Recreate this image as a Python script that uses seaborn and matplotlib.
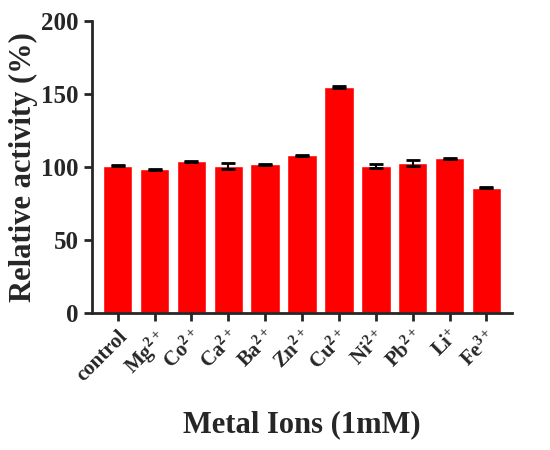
import matplotlib
matplotlib.use("Agg")
import matplotlib.pyplot as plt
import seaborn as sns
import pandas as pd

# ==================== DATA ====================
ions = ["control", "Mg$^{2+}$", "Co$^{2+}$", "Ca$^{2+}$", "Ba$^{2+}$", "Zn$^{2+}$",
        "Cu$^{2+}$", "Ni$^{2+}$", "Pb$^{2+}$", "Li$^{+}$", "Fe$^{3+}$"]
activity = [101, 98.5, 104, 101, 102, 108, 155, 101, 103, 106, 86]
err = [0.5, 0.3, 0.3, 2.0, 0.5, 0.6, 0.5, 1.5, 2.0, 0.6, 0.4]

df = pd.DataFrame({"ion": ions, "activity": activity, "err": err})

# ==================== STYLE ====================
sns.set_style("ticks")
plt.rcParams["font.family"] = ["Liberation Serif", "DejaVu Serif"]
plt.rcParams["font.weight"] = "bold"
plt.rcParams["mathtext.fontset"] = "custom"
plt.rcParams["mathtext.rm"] = "Liberation Serif"
plt.rcParams["mathtext.it"] = "Liberation Serif"

fig = plt.figure(figsize=(5.5, 4.5), dpi=100)
ax = fig.add_axes([0.167, 0.304, 0.763, 0.649])

sns.barplot(data=df, x="ion", y="activity", color="#ff0000", saturation=1,
            width=0.8, errorbar=None, ax=ax)
ax.errorbar(range(len(ions)), df["activity"], yerr=df["err"], fmt="none",
            ecolor="black", elinewidth=1.5, capsize=5, capthick=2)

ax.set_ylim(0, 200)
ax.set_xlim(-0.7, 10.68)
ax.set_yticks([0, 50, 100, 150, 200])
ax.set_yticklabels([0, 50, 100, 150, 200], fontsize=18, fontweight="bold")
ax.set_xticks(range(len(ions)))
ax.set_xticklabels(ions, rotation=45, ha="right", rotation_mode="anchor",
                   fontsize=15, fontweight="bold")
ax.set_ylabel("Relative activity (%)", fontsize=22, fontweight="bold", labelpad=2)
ax.set_xlabel("Metal Ions (1mM)", fontsize=22, fontweight="bold", labelpad=18)

for s in ["top", "right"]:
    ax.spines[s].set_visible(False)
for s in ["left", "bottom"]:
    ax.spines[s].set_linewidth(2)
ax.tick_params(width=2, length=6, direction="out")

fig.savefig("out.png", dpi=100)
